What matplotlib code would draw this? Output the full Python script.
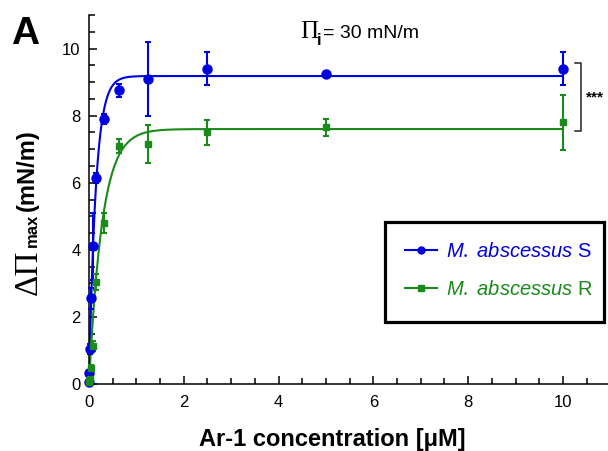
import numpy as np
import matplotlib
matplotlib.use("Agg")
import matplotlib.pyplot as plt
from matplotlib.ticker import MultipleLocator
from matplotlib.lines import Line2D
from matplotlib.patches import Rectangle

plt.rcParams['font.family'] = ['Liberation Sans', 'DejaVu Sans']
plt.rcParams['mathtext.fontset'] = 'custom'
plt.rcParams['mathtext.rm'] = 'Liberation Serif'
plt.rcParams['mathtext.it'] = 'Liberation Sans:italic'
plt.rcParams['mathtext.bf'] = 'Liberation Sans:bold'

# Ar-1 concentration (uM), two-fold dilution series
conc = [0, 0.0098, 0.0195, 0.039, 0.078, 0.156, 0.3125, 0.625, 1.25, 2.5, 5, 10]

# M. abscessus S
s_mean = [0.05, 0.33, 1.05, 2.55, 4.1, 6.15, 7.9, 8.75, 9.1, 9.4, 9.25, 9.4]
s_err = [0.05, 0.1, 0.15, 0.3, 1.0, 0.15, 0.15, 0.2, 1.1, 0.5, 0.05, 0.5]

# M. abscessus R
r_mean = [0.05, 0.1, 0.15, 0.48, 1.13, 3.04, 4.8, 7.1, 7.15, 7.5, 7.65, 7.8]
r_err = [0.05, 0.05, 0.05, 0.1, 0.15, 0.25, 0.3, 0.2, 0.57, 0.37, 0.25, 0.82]

# one-phase association fit parameters (plateau, rate)
s_fit = (9.18, 7.0)
r_fit = (7.6, 3.6)

blue = '#0000e0'
green = '#1a8a1a'

W, H = 608, 451


def px(x, y):
    # pixel position (from top-left) -> figure fraction
    return x / W, 1 - y / H


fig = plt.figure(figsize=(6.08, 4.51), dpi=100)
ax = fig.add_axes([89 / W, 67 / H, 519 / W, 369 / H])

xs = np.linspace(0, 10, 1000)
ax.plot(xs, s_fit[0] * (1 - np.exp(-s_fit[1] * xs)), color=blue, lw=1.5, zorder=2)
ax.plot(xs, r_fit[0] * (1 - np.exp(-r_fit[1] * xs)), color=green, lw=1.5, zorder=2)

ax.errorbar(conc, s_mean, yerr=s_err, fmt='o', color=blue, ms=6.5, capsize=2.5,
            elinewidth=1.5, capthick=1.5, zorder=3, clip_on=False)
ax.errorbar(conc, r_mean, yerr=r_err, fmt='s', color=green, ms=5, capsize=2.5,
            elinewidth=1.5, capthick=1.5, zorder=3, clip_on=False)

ax.set_xlim(0, 10.95)
ax.set_ylim(0, 11)
ax.xaxis.set_major_locator(MultipleLocator(2))
ax.xaxis.set_minor_locator(MultipleLocator(0.5))
ax.yaxis.set_major_locator(MultipleLocator(2))
ax.yaxis.set_minor_locator(MultipleLocator(0.5))
ax.tick_params(which='both', direction='in', width=1.1, labelsize=12)
ax.tick_params(axis='y', pad=6)
ax.tick_params(axis='x', pad=8)
ax.tick_params(which='major', length=6)
ax.tick_params(which='minor', length=4)
for side in ['top', 'right']:
    ax.spines[side].set_visible(False)
for side in ['left', 'bottom']:
    ax.spines[side].set_linewidth(1.1)

# x label
fig.text(*px(332, 446), 'Ar-1 concentration [μM]', fontsize=17, fontweight='bold',
         ha='center', va='baseline')

# y label built from pieces (large serif Delta-Pi, small bold subscript)
fig.text(*px(37, 295), 'ΔΠ', family='Liberation Serif', fontsize=24, rotation=90,
         rotation_mode='anchor', ha='left', va='baseline')
fig.text(*px(37, 247), 'max', fontsize=12, fontweight='bold', rotation=90,
         rotation_mode='anchor', ha='left', va='baseline')
fig.text(*px(34, 211), '(mN/m)', fontsize=17, fontweight='bold', rotation=90,
         rotation_mode='anchor', ha='left', va='baseline')

# surface pressure annotation
fig.text(*px(300, 38), 'Π', family='Liberation Serif', fontsize=18, va='baseline')
fig.text(*px(317, 45), 'i', fontsize=12, fontweight='bold', va='baseline')
fig.text(*px(323, 38), '= 30 mN/m', fontsize=14, va='baseline')

# panel letter
fig.text(*px(11, 44), 'A', fontsize=28, fontweight='bold', va='baseline')

# significance bracket
bx, btop, bbot = 10.38, 9.57, 7.54
ax.plot([bx - 0.12, bx, bx, bx - 0.12], [btop, btop, bbot, bbot], color='#222222',
        lw=1.1, clip_on=False)
ax.text(bx + 0.1, (btop + bbot) / 2, '***', fontsize=11, fontweight='bold',
        va='center', ha='left', clip_on=False)

# legend (frame drawn separately to match the box size)
x0, y0 = px(385, 322)
x1, y1 = px(604, 222)
fig.patches.append(Rectangle((x0, y0), x1 - x0, y1 - y0, transform=fig.transFigure,
                             fill=False, edgecolor='black', linewidth=2.3, zorder=5))
handles = [Line2D([], [], color=blue, marker='o', ms=5, lw=1.5),
           Line2D([], [], color=green, marker='s', ms=4, lw=1.5)]
labels = [r'$\mathit{M.\ abscessus}$ S', r'$\mathit{M.\ abscessus}$ R']
leg = fig.legend(handles, labels, loc='upper left',
                 bbox_to_anchor=px(385, 222), bbox_transform=fig.transFigure,
                 borderaxespad=0, frameon=False,
                 fontsize=14.5, borderpad=1.0, labelspacing=0.95, handlelength=1.6,
                 handletextpad=0.45)
for txt, c in zip(leg.get_texts(), [blue, green]):
    txt.set_color(c)

fig.savefig('out.png', dpi=100)
